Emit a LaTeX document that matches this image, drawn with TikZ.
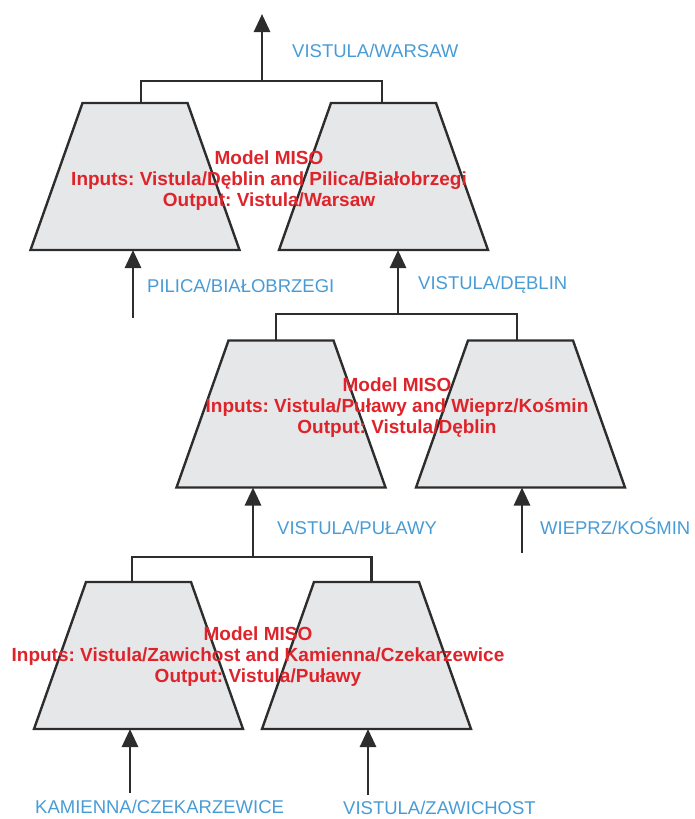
\documentclass[tikz,border=0pt]{standalone}
\usepackage{fontspec}
\setmainfont{Liberation Sans}
\usetikzlibrary{arrows.meta}
\definecolor{riverblue}{RGB}{72,156,214}
\definecolor{modelred}{RGB}{222,36,42}
\definecolor{boxgray}{RGB}{230,231,233}
\definecolor{linegray}{RGB}{45,45,45}
\frenchspacing
\begin{document}
\begin{tikzpicture}[x=1pt,y=-1pt,
  model/.style={rectangle, minimum width=209pt, minimum height=147pt,
    inner sep=0pt, outer sep=0pt},
  modelbox/.style={draw=linegray, line width=2.4pt, fill=boxgray, line join=miter},
  link/.style={draw=linegray, line width=2.8pt},
  flow/.style={link, -{Triangle[width=16pt,length=18pt]}},
  river/.style={text=riverblue, anchor=base west, inner sep=0pt,
    font=\fontsize{18.5}{20}\selectfont},
  note/.style={text=modelred, align=center, inner sep=0pt,
    font=\bfseries\fontsize{19}{21}\selectfont}]
\useasboundingbox (0,0) rectangle (694,819);

% model blocks (frames for the trapezoids)
\node[model] (tl) at (135,176.5) {};
\node[model] (tr) at (383.5,176.5) {};
\node[model] (ml) at (281,414) {};
\node[model] (mr) at (520.5,414) {};
\node[model] (bl) at (138.5,655.5) {};
\node[model] (br) at (366.5,655.5) {};
\foreach \m in {tl,tr,ml,mr,bl,br}
  \draw[modelbox] (\m.south west) -- (\m.south east)
    -- ([xshift=-52pt]\m.north east) -- ([xshift=52pt]\m.north west) -- cycle;

% junctions and free ends
\coordinate (topjoin) at (262,81);
\coordinate (midjoin) at (398,314);
\coordinate (botjoin) at (253,557);
\coordinate (out) at (262,14);
\coordinate (inPilica) at (133,318);
\coordinate (inWieprz) at (522,553);
\coordinate (inKamienna) at (130,793);
\coordinate (inZawichost) at (368,795);

% output collectors
\draw[link] ([xshift=6pt]tl.north) |- (topjoin) -| ([xshift=-1.5pt]tr.north);
\draw[link] ([xshift=-5pt]ml.north) |- (midjoin) -| ([xshift=-3.5pt]mr.north);
\draw[link] ([xshift=-6.5pt]bl.north) |- (botjoin) -| ([xshift=5pt]br.north);

% flows between levels
\draw[flow] (topjoin) -- (out);
\draw[flow] (midjoin) -- (midjoin |- tr.south);
\draw[flow] (botjoin) -- (botjoin |- ml.south);

% gauge inputs
\draw[flow] (inPilica) -- (inPilica |- tl.south);
\draw[flow] (inWieprz) -- (inWieprz |- mr.south);
\draw[flow] (inKamienna) -- (inKamienna |- bl.south);
\draw[flow] (inZawichost) -- (inZawichost |- br.south);

% gauge labels
\node[river] (lWarsaw) at (292,57) {VISTULA/WARSAW};
\node[river] (lPilica) at (147,292) {PILICA/BIAŁOBRZEGI};
\node[river] (lDeblin) at (418,289) {VISTULA/DĘBLIN};
\node[river] (lPulawy) at (277,534) {VISTULA/PUŁAWY};
\node[river] (lWieprz) at (540,534) {WIEPRZ/KOŚMIN};
\node[river] (lKamienna) at (35,813) {KAMIENNA/CZEKARZEWICE};
\node[river] (lZawichost) at (343,814) {VISTULA/ZAWICHOST};

% model descriptions
\node[note] (nTop) at (269,181) {Model MISO\\Inputs: Vistula/Dęblin and Pilica/Białobrzegi\\Output: Vistula/Warsaw};
\node[note] (nMid) at (397,408) {Model MISO\\Inputs: Vistula/Puławy and Wieprz/Kośmin\\Output: Vistula/Dęblin};
\node[note] (nBot) at (258,657) {Model MISO\\Inputs: Vistula/Zawichost and Kamienna/Czekarzewice\\Output: Vistula/Puławy};
\end{tikzpicture}
\end{document}
